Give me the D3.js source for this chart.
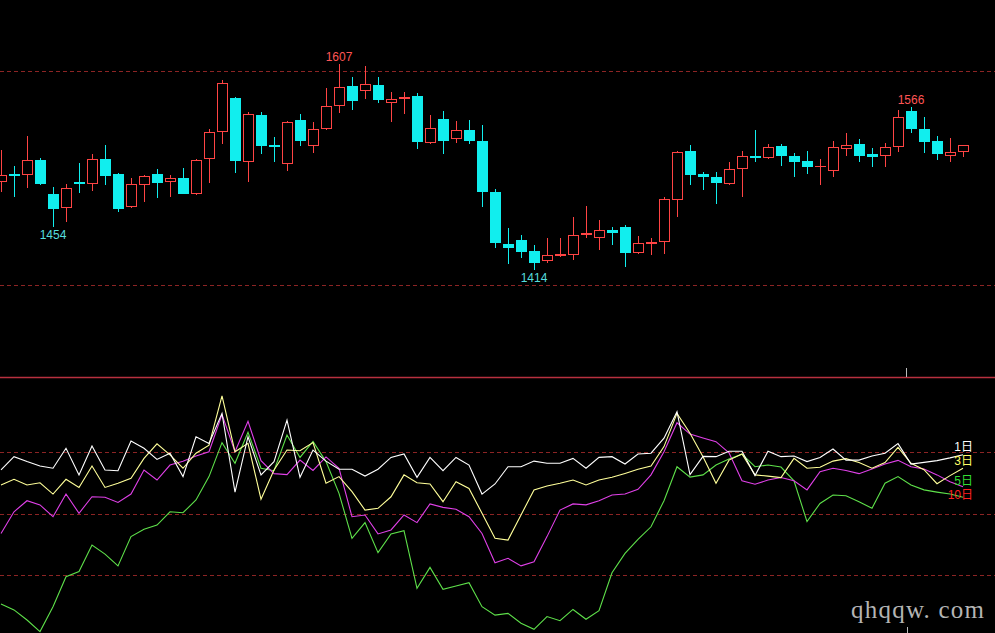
<!DOCTYPE html>
<html><head><meta charset="utf-8">
<script src="https://cdn.jsdelivr.net/npm/d3@7/dist/d3.min.js"></script>
<style>html,body{margin:0;padding:0;background:#000;overflow:hidden}</style>
</head><body>
<svg id="c" width="995" height="633"></svg>
<script>
// ---- Candlestick data (price) ----
const openP  = [1496,1504,1503,1517,1485,1472,1496,1494,1518,1504,1473,1493,1504,1496,1500,1485,1518,1543,1575,1515,1559,1531,1513,1554,1530,1546,1567,1586,1581,1587,1570,1574,1577,1533,1555,1536,1545,1535,1487,1438,1442,1432,1422,1427,1428,1447,1444,1451,1454,1430,1438,1440,1479,1525,1504,1501,1494,1508,1521,1519,1530,1521,1516,1510,1507,1527,1532,1522,1521,1529,1563,1546,1535,1521,1524];
const highP  = [1526,1511,1539,1519,1492,1494,1514,1522,1531,1505,1500,1503,1508,1503,1509,1518,1546,1592,1576,1562,1562,1538,1553,1560,1552,1584,1607,1594,1605,1594,1580,1580,1579,1559,1563,1553,1554,1550,1490,1453,1447,1437,1444,1444,1464,1474,1461,1454,1456,1446,1444,1482,1525,1531,1506,1506,1515,1525,1545,1532,1532,1523,1525,1518,1535,1542,1536,1528,1533,1564,1566,1557,1539,1537,1531];
const lowP   = [1487,1482,1491,1493,1454,1459,1486,1488,1493,1468,1472,1478,1481,1482,1485,1484,1495,1532,1505,1496,1522,1515,1507,1530,1523,1545,1561,1564,1574,1570,1552,1560,1527,1532,1522,1533,1532,1473,1435,1420,1425,1414,1421,1426,1423,1444,1433,1437,1417,1429,1428,1429,1464,1493,1489,1476,1493,1482,1515,1518,1511,1501,1504,1493,1501,1521,1515,1510,1510,1524,1542,1523,1517,1515,1520];
const closeP = [1503,1503,1517,1494,1471,1491,1494,1518,1502,1471,1494,1502,1495,1500,1485,1517,1543,1589,1516,1560,1530,1529,1552,1535,1546,1567,1585,1572,1588,1573,1574,1576,1534,1547,1535,1545,1535,1487,1439,1435,1431,1421,1428,1429,1447,1449,1451,1449,1430,1439,1440,1480,1524,1503,1501,1495,1508,1521,1519,1529,1521,1515,1510,1511,1529,1531,1521,1520,1529,1557,1546,1534,1522,1524,1531];
const priceGrid = [1400, 1600];
const highMarks = [26, 70];   // candle indices labelled with their high
const lowMarks  = [4, 41];    // candle indices labelled with their low

// ---- Indicator lines (0..100) ----
const line1 = [67.7,73.1,71.1,69.3,68.4,76.5,65.7,77.4,67.7,67.4,79.5,76.5,72.0,74.5,65.0,81.2,78.5,90.7,58.7,81.2,65.7,71.1,88.0,64.7,75.8,71.3,68.0,68.0,65.2,68.0,72.8,74.2,64.7,72.8,67.4,72.8,69.7,57.9,62.0,69.0,69.0,71.3,70.4,70.4,72.4,68.4,72.8,73.1,70.1,74.2,74.5,80.6,91.4,65.8,73.2,73.1,75.3,75.3,65.4,75.3,73.1,73.4,71.1,72.8,76.2,71.7,71.7,73.4,74.5,78.4,70.1,70.8,71.5,72.6,73.9];
const line3 = [61.6,63.9,61.6,62.5,57.9,63.9,60.6,69.3,60.6,62.3,64.3,72.4,78.3,73.8,68.4,74.5,77.8,97.8,75.1,78.5,55.8,67.7,75.8,75.5,78.8,62.3,65.0,58.9,51.4,52.1,56.8,65.7,62.5,62.0,54.8,62.9,60.2,50.1,39.9,39.2,49.4,59.6,61.2,62.3,63.6,61.6,63.6,64.7,66.3,68.0,69.3,77.2,90.7,82.6,73.1,62.3,71.7,74.2,65.7,65.2,64.6,72.4,68.4,68.8,71.3,72.3,70.7,68.4,70.7,76.9,70.4,67.8,62.1,65.4,68.4];
const line5 = [41.9,50.7,55.2,53.5,48.7,57.9,50.1,56.8,56.6,54.5,57.9,67.7,63.6,69.7,71.2,73.4,75.1,90.2,75.1,87.5,71.5,66.2,65.8,71.7,67.5,73.0,68.4,48.7,49.4,41.7,43.3,49.4,46.3,53.9,52.5,51.7,48.7,41.9,30.0,31.8,28.7,30.4,40.6,51.4,53.9,53.5,55.2,57.5,57.9,59.8,65.7,75.1,86.9,82.3,80.7,79.2,74.7,63.3,61.9,63.6,64.6,63.3,59.6,67.0,68.4,67.5,66.2,68.1,70.1,71.6,69.0,68.1,65.7,62.9,60.9];
const line10 = [13.2,10.8,6.7,2.0,12.1,24.3,26.4,37.2,33.5,28.7,40.6,43.6,45.3,50.7,50.3,55.5,65.0,78.8,70.4,83.0,68.4,67.4,81.9,72.8,79.3,71.1,58.2,39.9,46.3,34.1,41.7,43.0,19.6,28.1,19.2,20.5,21.9,12.1,8.7,9.4,5.4,2.9,8.1,6.4,11.0,7.0,10.5,25.9,33.8,39.5,44.6,55.2,69.0,64.8,65.7,69.7,72.2,74.1,69.0,69.7,68.9,63.3,46.7,54.1,57.5,57.2,54.8,52.1,62.3,65.0,61.6,59.6,58.7,57.9,56.6];
const indGrid = [25, 50, 75];
const legendLabels = ["1日", "3日", "5日", "10日"];

// ---- Drawing ----
const svg = d3.select("#c");
svg.append("rect").attr("width",995).attr("height",633).attr("fill","#000");

const n = openP.length;
const x = d3.scaleLinear().domain([0, n-1]).range([1, 1 + 13*(n-1)]);
const yP = d3.scaleLinear().domain(priceGrid).range([285, 71]);
const yI = d3.scaleLinear().domain([0, 100]).range([636.5, 390.5]);
const bodyW = 10;

// grid lines
const gridColor = "#8c2424";
svg.append("g").selectAll("line").data(priceGrid).join("line")
  .attr("x1",0).attr("x2",995)
  .attr("y1",d=>Math.round(yP(d))+0.5).attr("y2",d=>Math.round(yP(d))+0.5)
  .attr("stroke",gridColor).attr("stroke-dasharray","4,3").attr("shape-rendering","crispEdges");
svg.append("g").selectAll("line").data(indGrid).join("line")
  .attr("x1",0).attr("x2",995)
  .attr("y1",d=>Math.round(yI(d))+0.5).attr("y2",d=>Math.round(yI(d))+0.5)
  .attr("stroke",gridColor).attr("stroke-dasharray","4,3").attr("shape-rendering","crispEdges");

// separator
svg.append("line").attr("x1",0).attr("x2",995).attr("y1",377.5).attr("y2",377.5)
  .attr("stroke","#b8303f").attr("stroke-width",1.3);
svg.append("line").attr("x1",906.5).attr("x2",906.5).attr("y1",368).attr("y2",377)
  .attr("stroke","#bbbbbb").attr("shape-rendering","crispEdges");
svg.append("line").attr("x1",907.5).attr("x2",907.5).attr("y1",627).attr("y2",633)
  .attr("stroke","#bbbbbb").attr("shape-rendering","crispEdges");

// candles
const up = "#ff4444", down = "#11eeee";
const idx = d3.range(n);
const cg = svg.append("g").attr("shape-rendering","crispEdges");
idx.forEach(i => {
  const isUp = closeP[i] >= openP[i];
  const col = isUp ? up : down;
  const cx = Math.round(x(i)) + 0.5;
  cg.append("line").attr("x1",cx).attr("x2",cx)
    .attr("y1",Math.round(yP(highP[i]))).attr("y2",Math.round(yP(lowP[i])))
    .attr("stroke",col);
  const top = Math.round(yP(Math.max(openP[i],closeP[i])));
  const bot = Math.round(yP(Math.min(openP[i],closeP[i])));
  const h = Math.max(bot - top, 1);
  if (isUp) {
    cg.append("rect").attr("x",cx-bodyW/2).attr("y",top+0.5)
      .attr("width",bodyW).attr("height",Math.max(h-1,0.01))
      .attr("fill","#000").attr("stroke",col);
  } else {
    cg.append("rect").attr("x",cx-bodyW/2-0.5).attr("y",top)
      .attr("width",bodyW+1).attr("height",h+ (h<=1?1:0))
      .attr("fill",col);
  }
});

// high/low labels
const lblFont = "'Liberation Sans', Arial, sans-serif";
svg.append("g").selectAll("text").data(highMarks).join("text")
  .attr("x",i=>x(i)).attr("y",i=>yP(highP[i])-3)
  .attr("text-anchor","middle").attr("font-family",lblFont).attr("font-size",12)
  .attr("fill","#ff5555").text(i=>highP[i]);
svg.append("g").selectAll("text").data(lowMarks).join("text")
  .attr("x",i=>x(i)).attr("y",i=>yP(lowP[i])+12)
  .attr("text-anchor","middle").attr("font-family",lblFont).attr("font-size",12)
  .attr("fill","#55dddd").text(i=>lowP[i]);

// indicator lines
const lineGen = d3.line().x((d,i)=>x(i)).y(d=>yI(d));
const series = [
  {data: line10, color:"#5ee04a"},
  {data: line5,  color:"#e040e8"},
  {data: line3,  color:"#ffff99"},
  {data: line1,  color:"#ffffff"}
];
svg.append("g").selectAll("path").data(series).join("path")
  .attr("d",d=>lineGen(d.data)).attr("fill","none")
  .attr("stroke",d=>d.color).attr("stroke-width",1.1);

// legend labels
const legColors = ["#ffffff","#ffff66","#33dd33","#ff2020"];
const legY = [450.5, 465, 484.5, 498.5];
svg.append("g").selectAll("text").data(legendLabels).join("text")
  .attr("x",973).attr("y",(d,i)=>legY[i]).attr("text-anchor","end")
  .attr("font-family","'Liberation Sans','Noto Sans CJK SC',sans-serif").attr("font-size",12)
  .attr("fill",(d,i)=>legColors[i]).text(d=>d);

// watermark
svg.append("text").attr("x",851).attr("y",618)
  .attr("font-family","'Liberation Serif','DejaVu Serif',serif").attr("font-size",25)
  .attr("fill","#b4b4b4").attr("textLength",133).attr("lengthAdjust","spacing")
  .text("qhqqw. com");
</script>
</body></html>
